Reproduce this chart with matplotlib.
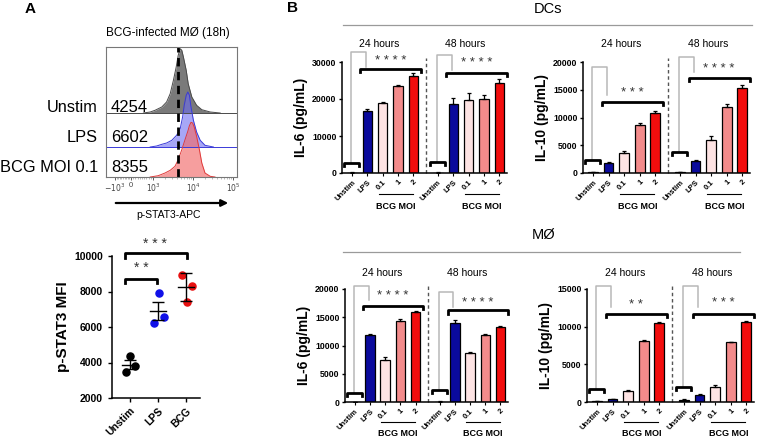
import numpy as np
import matplotlib.pyplot as plt
from matplotlib.lines import Line2D
from matplotlib.patches import FancyArrowPatch

plt.rcParams['font.family'] = ['Liberation Sans', 'DejaVu Sans']

W, H = 757, 437

# ---------------- panel A data ----------------
hist_rows = ['Unstim', 'LPS', 'BCG MOI 0.1']
hist_mfi = [4254, 6602, 8355]

unstim_logx = [2.76, 2.93, 3.05, 3.22, 3.34, 3.43, 3.51, 3.58, 3.63, 3.68, 3.72, 3.76, 3.83, 3.88, 3.97, 4.09, 4.22, 4.43, 4.68]
unstim_cnt = [0, 1, 2.7, 6, 11, 19.3, 32.7, 46, 57.7, 64.3, 62.7, 56, 42.7, 29.3, 16, 7.7, 3.3, 1, 0]
lps_logx = [2.93, 3.09, 3.22, 3.34, 3.47, 3.59, 3.68, 3.74, 3.78, 3.83, 3.87, 3.91, 3.95, 4.01, 4.09, 4.18, 4.30, 4.51]
lps_cnt = [0, 1, 2.7, 4, 6.7, 11.7, 18.3, 30, 41.7, 51.7, 55, 51.7, 40, 26.7, 15, 6.7, 1.7, 0]
bcg_logx = [2.93, 3.13, 3.30, 3.43, 3.55, 3.63, 3.72, 3.80, 3.87, 3.91, 3.95, 3.99, 4.03, 4.09, 4.16, 4.22, 4.30, 4.43, 4.55]
bcg_cnt = [0, 1.3, 4, 6.7, 10.7, 17.3, 27.3, 37.3, 45.7, 51.3, 54.7, 54, 50, 40.7, 27.3, 14, 4, 0.7, 0]

scatter_groups = ['Unstim', 'LPS', 'BCG']
scatter_unstim = [4380, 3465, 3820]
scatter_lps = [7940, 6250, 6540]
scatter_bcg = [8930, 8330, 7430]
scatter_mean = [3880, 6910, 8240]
scatter_err = [260, 520, 780]

# ---------------- panel B data ----------------
conditions = ['Unstim', 'LPS', '0.1', '1', '2']

il6_dc_24 = [80, 16800, 19000, 23400, 26300]
il6_dc_24_err = [60, 600, 300, 450, 800]
il6_dc_48 = [80, 18600, 19700, 19900, 24300]
il6_dc_48_err = [60, 1600, 2000, 1300, 1000]

il10_dc_24 = [100, 1800, 3650, 8700, 10800]
il10_dc_24_err = [100, 150, 300, 300, 300]
il10_dc_48 = [150, 2250, 6000, 11900, 15400]
il10_dc_48_err = [100, 100, 700, 500, 500]

il6_mo_24 = [40, 11900, 7500, 14400, 15900]
il6_mo_24_err = [30, 150, 500, 300, 250]
il6_mo_48 = [60, 14000, 8600, 11900, 13200]
il6_mo_48_err = [50, 600, 200, 200, 300]

il10_mo_24 = [100, 350, 1500, 8050, 10500]
il10_mo_24_err = [80, 100, 150, 150, 150]
il10_mo_48 = [250, 950, 2050, 7900, 10600]
il10_mo_48_err = [100, 100, 150, 100, 200]

# significance annotations: [24h, 48h]
il6_dc_sig = dict(small=[2700, 3100], gtop=[32700, 31800], gbot=[28700, 27800], big=[28000, 27100], star=[30400, 29600], txt=['* * * *', '* * * *'])
il10_dc_sig = dict(small=[2270, 3700], gtop=[19100, 20900], gbot=[14000, 18200], big=[12840, 17200], star=[14450, 18800], txt=['* * *', '* * * *'])
il6_mo_sig = dict(small=[1600, 2200], gtop=[20600, 19400], gbot=[18100, 16900], big=[16990, 16200], star=[18800, 17600], txt=['* * * *', '* * * *'])
il10_mo_sig = dict(small=[1780, 2000], gtop=[15440, 15350], gbot=[12600, 12600], big=[11700, 11700], star=[12900, 13100], txt=['* *', '* * *'])

bar_colors = ['#000000', '#0a0a9c', '#fde3e3', '#f38b8b', '#f20d0d']


def fpx(x, y):
    return x / W, 1 - y / H


def rect(x0, y0, x1, y1):
    return [x0 / W, 1 - y1 / H, (x1 - x0) / W, (y1 - y0) / H]


fig = plt.figure(figsize=(W / 100, H / 100), dpi=100)

# ---------------- A: histogram ----------------
axh = fig.add_axes(rect(106, 47, 237, 177))
offsets = [64, 30, 0]
for (lx, cnt, fc, ec, al), off in zip(
        [(unstim_logx, unstim_cnt, '#7a7a7a', '#4a4a4a', 1.0),
         (lps_logx, lps_cnt, '#6c6cf0', '#3a3ad8', 0.6),
         (bcg_logx, bcg_cnt, '#f26a6a', '#e03a3a', 0.65)], offsets):
    y = np.array(cnt) + off
    axh.fill_between(lx, off, y, color=fc, alpha=al, lw=0)
    axh.plot(lx, y, color=ec, lw=0.7)
    axh.axhline(off, color=ec, lw=0.7)
axh.axvline(np.log10(hist_mfi[0]), color='black', lw=2, ls=(0, (3, 2)))
axh.set_xlim(1.825, 5.1)
axh.set_ylim(0, 130)
axh.set_yticks([])
axh.set_xticks([2.05, 2.45, 3, 4, 5])
axh.set_xticklabels([r'$-10^3$', '0', r'$10^3$', r'$10^4$', r'$10^5$'], fontsize=5.5)
minor = list(np.linspace(2.05, 2.45, 11)) + list(np.linspace(2.45, 3, 11))
for d in (3, 4):
    minor += list(d + np.log10(np.arange(2, 10)))
axh.set_xticks(minor, minor=True)
axh.tick_params(axis='x', which='major', length=2.5, width=0.6, pad=1, colors='#444444')
axh.tick_params(axis='x', which='minor', length=1.5, width=0.4, colors='#888888')
for s in axh.spines.values():
    s.set_color('#777777')
    s.set_linewidth(0.8)

fig.text(*fpx(30, 9), 'A', fontsize=11, fontweight='bold', ha='center', va='center')
fig.text(*fpx(168, 33), 'BCG-infected MØ (18h)', fontsize=8.5, ha='center', va='center')
for lab, mfi, yy in zip(hist_rows, hist_mfi, [107, 137, 167]):
    fig.text(*fpx(98, yy), lab, fontsize=11.8, ha='right', va='center')
    fig.text(*fpx(111, yy), str(mfi), fontsize=12, ha='left', va='center')
fig.add_artist(FancyArrowPatch(fpx(113, 203), fpx(231, 203), transform=fig.transFigure,
                               arrowstyle='-|>', mutation_scale=10, lw=1.6, color='black'))
fig.text(*fpx(169, 215), 'p-STAT3-APC', fontsize=7.5, ha='center', va='center')

# ---------------- A: scatter ----------------
axs = fig.add_axes(rect(112, 256, 200, 398))
swarm_dx = [[0.02, -0.15, 0.18], [0.05, -0.13, 0.21], [-0.15, 0.22, 0.05]]
for i, (vals, c) in enumerate(zip([scatter_unstim, scatter_lps, scatter_bcg], ['black', '#1010e8', '#e81010'])):
    axs.scatter(np.array(swarm_dx[i]) + i, vals, s=26, color=c, zorder=3, clip_on=False)
    axs.plot([i - 0.3, i + 0.3], [scatter_mean[i]] * 2, color='black', lw=1.0, zorder=4)
    axs.errorbar(i, scatter_mean[i], yerr=scatter_err[i], fmt='none', ecolor='black',
                 elinewidth=1.0, capsize=4, capthick=1.0, zorder=4)
axs.set_xlim(-0.64, 2.5)
axs.set_ylim(2000, 10000)
axs.set_yticks(np.arange(2000, 10001, 2000))
axs.set_xticks([0, 1, 2])
axs.set_xticklabels(scatter_groups, rotation=45, ha='right', rotation_mode='anchor', fontsize=7.5, fontweight='bold')
for lab in axs.get_yticklabels():
    lab.set_fontweight('bold')
axs.tick_params(labelsize=7.5, width=1, length=3)
axs.tick_params(axis='x', pad=2.5)
axs.spines[['top', 'right']].set_visible(False)
axs.spines[['left', 'bottom']].set_linewidth(1.1)
axs.set_ylabel('p-STAT3 MFI', fontsize=11, fontweight='bold', labelpad=3)
axs.plot([-0.18, -0.18, 0.95, 0.95], [8500, 8690, 8690, 8500], color='black', lw=2, clip_on=False)
axs.plot([-0.18, -0.18, 2.05, 2.05], [9870, 10190, 10190, 9870], color='black', lw=2, clip_on=False)
axs.text(0.42, 9300, '* *', fontsize=10, ha='center', va='center', color='#333333')
axs.text(0.89, 10700, '* * *', fontsize=10, ha='center', va='center', color='#333333')

# ---------------- B: bar panels ----------------
fig.text(*fpx(293, 8), 'B', fontsize=11, fontweight='bold', ha='center', va='center')
fig.text(*fpx(548, 9), 'DCs', fontsize=10.5, ha='center', va='center')
fig.add_artist(Line2D([343 / W, 752 / W], [1 - 24.5 / H] * 2, color='#9a9a9a', lw=0.9))
fig.text(*fpx(544, 235), 'MØ', fontsize=10.5, ha='center', va='center')
fig.add_artist(Line2D([343 / W, 740 / W], [1 - 251.5 / H] * 2, color='#9a9a9a', lw=0.9))


def bar_panel(r, v24, e24, v48, e48, ymax, ystep, ylabel, sig, tlab_y, moi_y):
    ax = fig.add_axes(r)
    tr = ax.get_xaxis_transform()
    h = ymax * 0.027
    for k, (u0, v, e) in enumerate(((0, v24, e24), (5.6, v48, e48))):
        pos = np.arange(5) + u0
        ax.bar(pos, v, width=0.62, color=bar_colors, edgecolor='black', linewidth=0.9, zorder=2)
        ax.errorbar(pos, v, yerr=[np.zeros(5), e], fmt='none', ecolor='black',
                    elinewidth=0.9, capsize=1.6, capthick=0.9, zorder=3)
        ys = sig['small'][k]
        ax.plot([u0 - 0.5, u0 - 0.5, u0 + 0.45, u0 + 0.45], [ys - h, ys, ys, ys - h],
                color='black', lw=2, clip_on=False, zorder=4)
        ax.plot([u0 - 0.05, u0 - 0.05, u0 + 0.9, u0 + 0.9], [ys, sig['gtop'][k], sig['gtop'][k], sig['gbot'][k]],
                color='#b8b8b8', lw=1.1, clip_on=False, zorder=1)
        yb = sig['big'][k]
        ax.plot([u0 + 0.55, u0 + 0.55, u0 + 4.5, u0 + 4.5], [yb - h, yb, yb, yb - h],
                color='black', lw=2, clip_on=False, zorder=4)
        ax.text(u0 + 2.5, sig['star'][k], sig['txt'][k], fontsize=9.5, ha='center', va='center', color='#333333')
        ax.text(u0 + 1.8, tlab_y, ['24 hours', '48 hours'][k], transform=tr, fontsize=7.5, ha='center', va='center')
        ax.plot([u0 + 1.75, u0 + 3.95], [moi_y[0]] * 2, transform=tr, color='black', lw=0.8, clip_on=False)
        ax.text(u0 + 2.85, moi_y[1], 'BCG MOI', transform=tr, fontsize=6.5, fontweight='bold', ha='center', va='center')
    ax.plot([4.8, 4.8], [0, ymax * 1.035], color='#555555', lw=1.0, ls=(0, (2.5, 2)), clip_on=False)
    ax.set_xlim(-0.65, 10.1)
    ax.set_ylim(0, ymax)
    ax.set_yticks(np.arange(0, ymax + 1, ystep))
    ax.set_xticks(list(np.arange(5)) + list(np.arange(5) + 5.6))
    ax.set_xticklabels(conditions * 2, rotation=45, ha='right', rotation_mode='anchor', fontsize=5.5, fontweight='bold')
    for lab in ax.get_yticklabels():
        lab.set_fontweight('bold')
    ax.tick_params(axis='y', labelsize=6.3, width=1, length=2.5, pad=1.5)
    ax.tick_params(axis='x', width=0.8, length=2, pad=2)
    ax.spines[['top', 'right']].set_visible(False)
    ax.spines[['left', 'bottom']].set_linewidth(1.1)
    ax.set_ylabel(ylabel, fontsize=10, fontweight='bold', labelpad=3)
    return ax


bar_panel(rect(342, 62, 507, 173), il6_dc_24, il6_dc_24_err, il6_dc_48, il6_dc_48_err,
          30000, 10000, 'IL-6 (pg/mL)', il6_dc_sig, 1.16, (-0.19, -0.30))
bar_panel(rect(583, 62, 750, 173), il10_dc_24, il10_dc_24_err, il10_dc_48, il10_dc_48_err,
          20000, 5000, 'IL-10 (pg/mL)', il10_dc_sig, 1.16, (-0.19, -0.30))
bar_panel(rect(345, 289, 508, 402), il6_mo_24, il6_mo_24_err, il6_mo_48, il6_mo_48_err,
          20000, 5000, 'IL-6 (pg/mL)', il6_mo_sig, 1.145, (-0.18, -0.28))
bar_panel(rect(587, 289, 754, 402), il10_mo_24, il10_mo_24_err, il10_mo_48, il10_mo_48_err,
          15000, 5000, 'IL-10 (pg/mL)', il10_mo_sig, 1.145, (-0.18, -0.28))

fig.savefig('out.png', dpi=100)
